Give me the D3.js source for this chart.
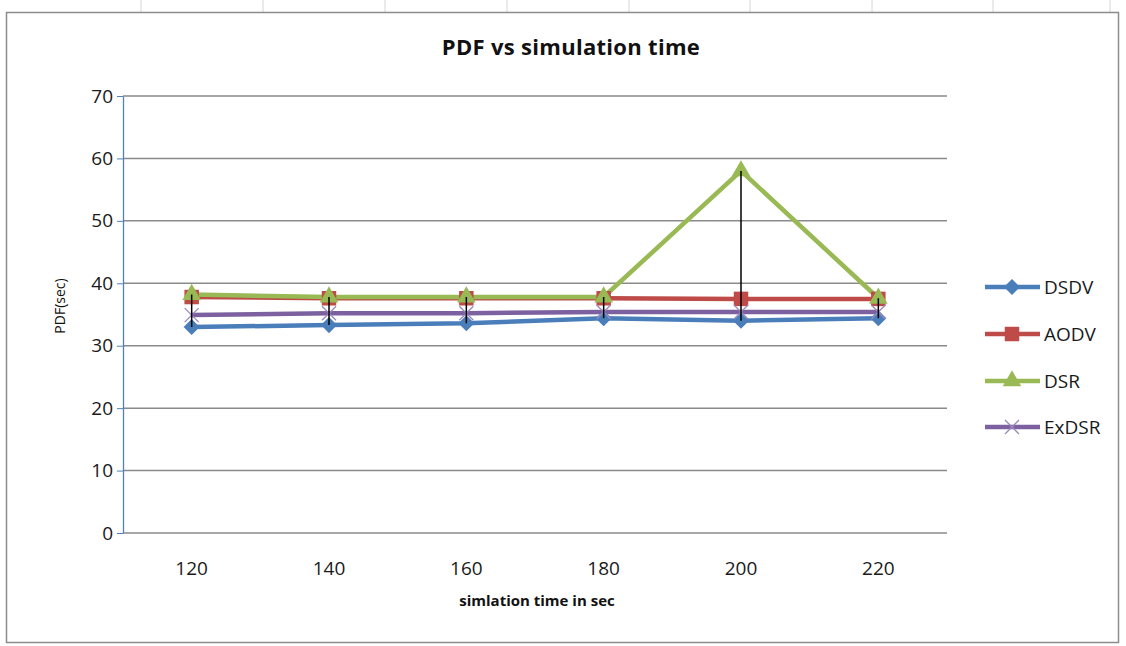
<!DOCTYPE html>
<html>
<head>
<meta charset="utf-8">
<script src="https://cdn.jsdelivr.net/npm/d3@7"></script>
<style>
  body { margin: 0; background: #fff; }
  text { font-family: "Open Sans", sans-serif; }
</style>
</head>
<body>
<div id="chart"></div>
<script>
var categories = ['120', '140', '160', '180', '200', '220'];
var seriesNames = ['DSDV', 'AODV', 'DSR', 'ExDSR'];
var dsdv = [33.0, 33.3, 33.6, 34.4, 34.0, 34.4];
var aodv = [37.8, 37.6, 37.6, 37.6, 37.5, 37.5];
var dsr = [38.2, 37.8, 37.8, 37.8, 58.0, 37.6];
var exdsr = [34.9, 35.2, 35.2, 35.4, 35.4, 35.4];
var yTicks = [0, 10, 20, 30, 40, 50, 60, 70];

var width = 1126, height = 646;
var svg = d3.select('#chart').append('svg')
  .attr('width', width)
  .attr('height', height);

// spreadsheet cell lines behind the chart
var sheetCols = [141, 263, 385, 507, 629, 750, 872, 993, 1110];
svg.append('g').selectAll('line')
  .data(sheetCols)
  .enter().append('line')
  .attr('x1', function(d) { return d; })
  .attr('x2', function(d) { return d; })
  .attr('y1', 0).attr('y2', 12)
  .attr('stroke', '#d4d4d4');

svg.append('rect')
  .attr('x', 6.5).attr('y', 12.5)
  .attr('width', 1112).attr('height', 630)
  .attr('fill', '#fff')
  .attr('stroke', '#8c8c8c')
  .attr('stroke-width', 1.5);

var x = d3.scaleBand().domain(categories).range([123, 947]);
var y = d3.scaleLinear().domain([0, 70]).range([533, 96]);

// grid
svg.append('g').selectAll('line')
  .data(yTicks)
  .enter().append('line')
  .attr('x1', 123).attr('x2', 947)
  .attr('y1', function(d) { return y(d); })
  .attr('y2', function(d) { return y(d); })
  .attr('stroke', '#8a8a8a')
  .attr('stroke-width', 1.5);

// y axis
var yAxis = svg.append('g')
  .attr('transform', 'translate(123,0)')
  .call(d3.axisLeft(y).tickValues(yTicks).tickSize(6).tickSizeOuter(0));
yAxis.select('.domain').attr('stroke', '#4f81bd').attr('stroke-width', 1.3);
yAxis.selectAll('.tick line').attr('stroke', '#4f81bd');
yAxis.selectAll('.tick text')
  .attr('x', -10)
  .attr('font-size', 19)
  .attr('fill', '#1a1a1a');

// x labels
svg.append('g').selectAll('text')
  .data(categories)
  .enter().append('text')
  .attr('x', function(d) { return x(d) + x.bandwidth() / 2; })
  .attr('y', 575)
  .attr('text-anchor', 'middle')
  .attr('font-size', 19)
  .attr('fill', '#1a1a1a')
  .text(function(d) { return d; });

svg.append('text')
  .attr('x', 571).attr('y', 55)
  .attr('text-anchor', 'middle')
  .attr('font-size', 22)
  .attr('font-weight', 'bold')
  .attr('letter-spacing', 0.3)
  .attr('fill', '#111')
  .text('PDF vs simulation time');

svg.append('text')
  .attr('x', 537).attr('y', 606)
  .attr('text-anchor', 'middle')
  .attr('font-size', 15)
  .attr('font-weight', 'bold')
  .attr('fill', '#111')
  .text('simlation time in sec');

svg.append('text')
  .attr('transform', 'translate(65,306) rotate(-90)')
  .attr('text-anchor', 'middle')
  .attr('font-size', 14)
  .attr('fill', '#111')
  .text('PDF(sec)');

var series = [
  { name: seriesNames[0], values: dsdv, color: '#4a7ebb', symbol: d3.symbolSquare, size: 130, rot: 45 },
  { name: seriesNames[1], values: aodv, color: '#be4b48', symbol: d3.symbolSquare, size: 210, rot: 0 },
  { name: seriesNames[2], values: dsr, color: '#98b954', symbol: d3.symbolTriangle, size: 150, rot: 0 },
  { name: seriesNames[3], values: exdsr, color: '#7d60a0', symbol: null, size: 0, rot: 0 }
];

var cx = function(i) { return x(categories[i]) + x.bandwidth() / 2; };

var line = d3.line()
  .x(function(d, i) { return cx(i); })
  .y(function(d) { return y(d); });

function drawMarker(g, s, px, py) {
  if (!s.symbol) {
    g.append('path')
      .attr('d', 'M' + (px - 7) + ',' + (py - 7) + 'L' + (px + 7) + ',' + (py + 7) +
                 'M' + (px - 7) + ',' + (py + 7) + 'L' + (px + 7) + ',' + (py - 7))
      .attr('stroke', '#9b88bd')
      .attr('stroke-width', 1.3)
      .attr('fill', 'none');
  } else {
    g.append('path')
      .attr('d', d3.symbol().type(s.symbol).size(s.size)())
      .attr('transform', 'translate(' + px + ',' + py + ') rotate(' + s.rot + ')')
      .attr('fill', s.color);
  }
}

series.forEach(function(s) {
  svg.append('path')
    .datum(s.values)
    .attr('d', line)
    .attr('fill', 'none')
    .attr('stroke', s.color)
    .attr('stroke-width', 4.5);
});

series.forEach(function(s) {
  var g = svg.append('g');
  s.values.forEach(function(v, i) { drawMarker(g, s, cx(i), y(v)); });
});

// high-low lines
svg.append('g').selectAll('line')
  .data(categories)
  .enter().append('line')
  .attr('x1', function(d, i) { return cx(i); })
  .attr('x2', function(d, i) { return cx(i); })
  .attr('y1', function(d, i) { return y(d3.max(series, function(s) { return s.values[i]; })); })
  .attr('y2', function(d, i) { return y(d3.min(series, function(s) { return s.values[i]; })); })
  .attr('stroke', '#000')
  .attr('stroke-width', 1.5);

// legend
var legendY = [287, 334, 381, 427];
var legend = svg.append('g');
series.forEach(function(s, i) {
  legend.append('line')
    .attr('x1', 985).attr('x2', 1040)
    .attr('y1', legendY[i]).attr('y2', legendY[i])
    .attr('stroke', s.color)
    .attr('stroke-width', 4.5);
  drawMarker(legend, s, 1012, legendY[i]);
  legend.append('text')
    .attr('x', 1044).attr('y', legendY[i] + 7)
    .attr('font-size', 19)
    .attr('fill', '#1a1a1a')
    .text(s.name);
});
</script>
</body>
</html>
